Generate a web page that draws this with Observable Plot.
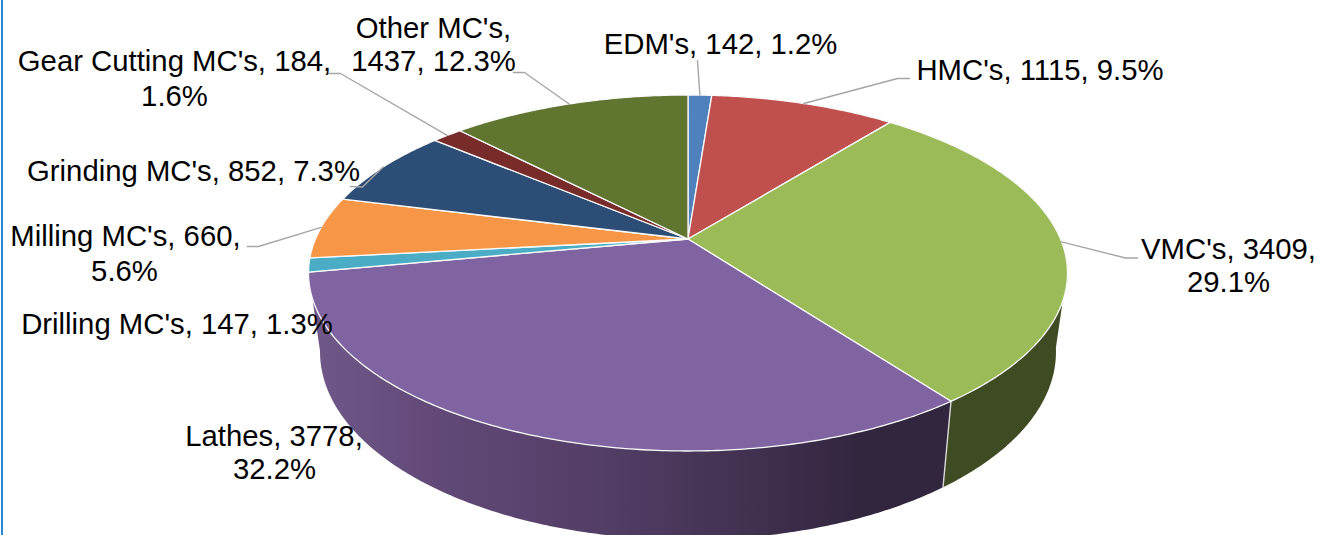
<!DOCTYPE html>
<html>
<head>
<meta charset="utf-8">
<style>
html,body{margin:0;padding:0;background:#fff;overflow:hidden}
svg{display:block}
</style>
<script src="https://cdn.jsdelivr.net/npm/d3@7"></script>
<script src="https://cdn.jsdelivr.net/npm/@observablehq/plot@0.6"></script>
</head>
<body>
<div id="chart"></div>
<script>
// ---- data ----
const names = ["EDM's","HMC's","VMC's","Lathes","Drilling MC's","Milling MC's","Grinding MC's","Gear Cutting MC's","Other MC's"];
const values = [142,1115,3409,3778,147,660,852,184,1437];
const colors = ["#4f81bd","#c0504d","#9bbb59","#8064a2","#4bacc6","#f79646","#2c4d75","#772c2a","#5f7530"];
const labelLines = [
  ["EDM's, 142, 1.2%"],
  ["HMC's, 1115, 9.5%"],
  ["VMC's, 3409,","29.1%"],
  ["Lathes, 3778,","32.2%"],
  ["Drilling MC's, 147, 1.3%"],
  ["Milling MC's, 660,","5.6%"],
  ["Grinding MC's, 852, 7.3%"],
  ["Gear Cutting MC's, 184,","1.6%"],
  ["Other MC's,","1437, 12.3%"]
];

// ---- layout ----
const W = 1327, H = 535;
const FONT = "'Liberation Sans', Arial, sans-serif";
const labelCentre = [[720],[1039.5],[1228,1228],[273.5,274],[176.5],[125,124],[193],[174,174],[433,433]];
const labelBase = [[53],[79],[258,291],[445,478],[333],[245,280],[180],[70,105],[37,70]];
const leaderBends = {0:[[697,60]],1:[[897,78],[909,78]],2:[[1125,257.5],[1137,257.5]],5:[[258,246],[247,246]],6:[[362,186.5],[350,186]],7:[[340,73],[328,73]],8:[[524,72],[513,72]]};

// perspective disc: theta measured clockwise from the back of the pie
const cx = 687.5, k = 0.191;
const topDisc = {cy: 238.5, f: 372.5, g: 171.5};
const lowDisc = {cy: 315.5, f: 361.2, g: 181};
function project(theta, low = 0) {
  const u = Math.sin(theta), v = Math.cos(theta), d = 1 + k * v;
  const c = low ? lowDisc : topDisc;
  return {x: cx + c.f * u / d, y: c.cy - c.g * v / d};
}
const arcAngles = (a, b) => {
  const n = Math.max(2, Math.ceil(Math.abs(b - a) / 0.01));
  return d3.range(n + 1).map(i => a + (b - a) * i / n);
};

const total = d3.sum(values);
const cum = d3.cumsum(values);
const ends = Array.from(cum, c => c / total * 2 * Math.PI);
const starts = ends.map((_, i) => (i ? ends[i - 1] : 0));

const slicePoly = i => {
  const arc = arcAngles(starts[i], ends[i]).map(t => project(t));
  const apex = {x: cx, y: topDisc.cy};
  return [apex, ...arc, apex];
};
const wallPoly = (a, b) => {
  const top = arcAngles(a, b).map(t => project(t));
  const low = arcAngles(b, a).map(t => project(t, 1));
  return [...top, ...low, top[0]];
};

const defs = () => {
  const d = d3.create("svg:defs");
  const g = d.append("linearGradient").attr("id","lathesWall").attr("gradientUnits","userSpaceOnUse")
    .attr("x1",316).attr("x2",945).attr("y1",0).attr("y2",0);
  [[0,"#6f5888"],[0.17,"#634a79"],[0.45,"#533e66"],[0.7,"#40304f"],[0.86,"#32263f"],[1,"#32263f"]]
    .forEach(([o,c]) => g.append("stop").attr("offset",o).attr("stop-color",c));
  return d.node();
};

const textRows = labelLines.flatMap((ls, i) => ls.map((t, j) => ({t, x: labelCentre[i][j], y: labelBase[i][j]})));

const leaderMarks = Object.entries(leaderBends).map(([i, bends]) => {
  const a = project((starts[+i] + ends[+i]) / 2);
  return Plot.line([a, ...bends.map(([x, y]) => ({x, y}))], {x:"x", y:"y", stroke:"#a6a6a6", strokeWidth:1.4});
});

const chart = Plot.plot({
  width: W, height: H, margin: 0,
  x: {domain:[0,W], range:[0,W], axis:null},
  y: {domain:[0,H], range:[0,H], axis:null},
  style: {background:"#fff", fontFamily: FONT},
  marks: [
    defs,
    // left frame stripe of the source figure
    Plot.ruleX([1.5], {stroke:"#2a86d6", strokeWidth:2}),
    // side walls of the front-facing slices
    Plot.line(wallPoly(Math.PI/2 + 0.17, ends[2]), {x:"x", y:"y", fill:"#3f4b22", stroke:"none"}),
    Plot.line(wallPoly(ends[2], ends[3]), {x:"x", y:"y", fill:"url(#lathesWall)", stroke:"none"}),
    Plot.line([project(ends[2]), project(ends[2],1)], {x:"x", y:"y", stroke:"#d9d9d9", strokeWidth:1.4}),
    // top face
    ...names.map((_, i) => Plot.line(slicePoly(i), {x:"x", y:"y", fill:colors[i], stroke:"#fafafa", strokeWidth:1.3, strokeLinejoin:"round"})),
    ...leaderMarks,
    Plot.text(textRows, {x:"x", y:"y", text:"t", textAnchor:"middle", lineAnchor:"bottom", fontSize:29.3, fill:"#000", fontFamily:FONT})
  ]
});
document.getElementById("chart").append(chart);
</script>
</body>
</html>
